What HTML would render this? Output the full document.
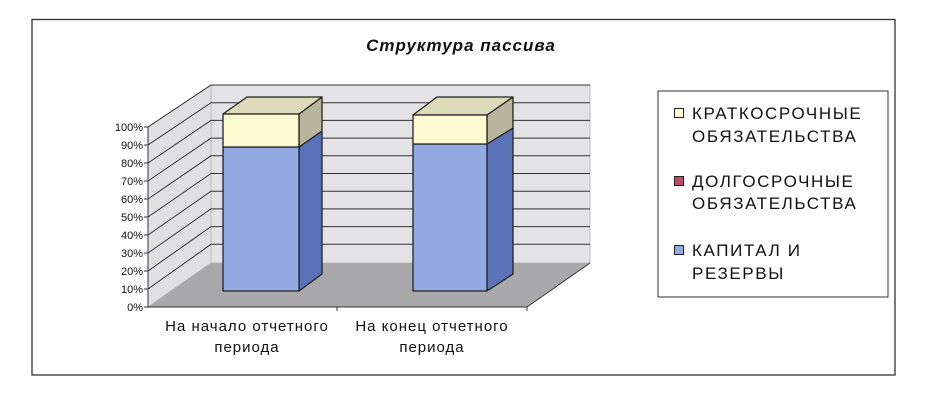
<!DOCTYPE html>
<html><head><meta charset="utf-8"><style>
html,body{margin:0;padding:0;background:#fff;}
svg{display:block;}
text{font-family:"Liberation Sans",sans-serif;}
</style></head><body>
<svg width="937" height="400" viewBox="0 0 937 400" xmlns="http://www.w3.org/2000/svg">
<rect x="0" y="0" width="937" height="400" fill="#fff"/>
<rect x="32" y="19.5" width="863" height="355.5" fill="#fff" stroke="#333" stroke-width="1.3"/>
<text x="461" y="51" font-size="17" font-weight="bold" font-style="italic" text-anchor="middle" fill="#111" letter-spacing="1">Структура пассива</text>
<!-- walls -->
<polygon points="211,85 590,85 590,263 211,263" fill="#e3e3e6" stroke="#bbb" stroke-width="1"/>
<polygon points="148,127 211,85 211,263 148,307" fill="#e0e0e2" stroke="#bbb" stroke-width="1"/>
<polygon points="148,307 211,263 590,263 527,307" fill="#a9a9ab"/>
<g stroke="#333" stroke-width="1" fill="none">
<polyline points="148,127 211,85 590,85"/>
<polyline points="148,145 211,102.7 590,102.7"/>
<polyline points="148,163 211,120.4 590,120.4"/>
<polyline points="148,181 211,138.1 590,138.1"/>
<polyline points="148,199 211,155.8 590,155.8"/>
<polyline points="148,217 211,173.5 590,173.5"/>
<polyline points="148,235 211,191.2 590,191.2"/>
<polyline points="148,253 211,208.9 590,208.9"/>
<polyline points="148,271 211,226.6 590,226.6"/>
<polyline points="148,289 211,244.3 590,244.3"/>
<line x1="148" y1="127" x2="148" y2="307"/>
<line x1="148" y1="307" x2="527" y2="307"/>
<line x1="527" y1="307" x2="590" y2="263"/>
<line x1="337" y1="307" x2="337" y2="311"/>
<line x1="527" y1="307" x2="527" y2="311"/>
</g>
<g stroke="#333" stroke-width="1">
<line x1="144" y1="127" x2="148" y2="127"/><line x1="144" y1="145" x2="148" y2="145"/><line x1="144" y1="163" x2="148" y2="163"/><line x1="144" y1="181" x2="148" y2="181"/><line x1="144" y1="199" x2="148" y2="199"/><line x1="144" y1="217" x2="148" y2="217"/><line x1="144" y1="235" x2="148" y2="235"/><line x1="144" y1="253" x2="148" y2="253"/><line x1="144" y1="271" x2="148" y2="271"/><line x1="144" y1="289" x2="148" y2="289"/><line x1="144" y1="307" x2="148" y2="307"/>
</g>
<g font-size="11" text-anchor="end" fill="#111">
<text x="143" y="131">100%</text><text x="143" y="149">90%</text><text x="143" y="167">80%</text><text x="143" y="185">70%</text><text x="143" y="203">60%</text><text x="143" y="221">50%</text><text x="143" y="239">40%</text><text x="143" y="257">30%</text><text x="143" y="275">20%</text><text x="143" y="293">10%</text><text x="143" y="311">0%</text>
</g>
<!-- bar 1 -->
<g stroke="#222" stroke-width="1.3" stroke-linejoin="round">
<polygon points="299,147 322,131 322,274 299,291" fill="#5a72b8"/>
<polygon points="299,114 322,97 322,131 299,147" fill="#b8b59c"/>
<polygon points="223,114 247,97 322,97 299,114" fill="#dcdab8"/>
<rect x="223" y="147" width="76" height="144" fill="#92a9e2"/>
<rect x="223" y="114" width="76" height="33" fill="#fbfad0"/>
</g>
<!-- bar 2 -->
<g stroke="#222" stroke-width="1.3" stroke-linejoin="round">
<polygon points="487,144 513,128 513,274 487,291" fill="#5a72b8"/>
<polygon points="487,115 513,97 513,128 487,144" fill="#b8b59c"/>
<polygon points="413,115 437,97 513,97 487,115" fill="#dcdab8"/>
<rect x="413" y="144" width="74" height="147" fill="#92a9e2"/>
<rect x="413" y="115" width="74" height="29" fill="#fbfad0"/>
</g>
<g font-size="15" text-anchor="middle" fill="#111" letter-spacing="1">
<text x="247" y="331">На начало отчетного</text><text x="247" y="352">периода</text>
<text x="432" y="331">На конец отчетного</text><text x="432" y="352">периода</text>
</g>
<!-- legend -->
<rect x="658" y="91" width="230" height="206" fill="#fff" stroke="#333" stroke-width="1"/>
<rect x="674.5" y="108.5" width="9" height="9" fill="#fbfad0" stroke="#222"/>
<rect x="674.5" y="176.5" width="9" height="9" fill="#c04868" stroke="#222"/>
<rect x="674.5" y="245.5" width="9" height="9" fill="#92a9e2" stroke="#222"/>
<g font-size="17" fill="#111" letter-spacing="1.6">
<text x="692" y="119">КРАТКОСРОЧНЫЕ</text><text x="692" y="142">ОБЯЗАТЕЛЬСТВА</text>
<text x="692" y="187">ДОЛГОСРОЧНЫЕ</text><text x="692" y="209">ОБЯЗАТЕЛЬСТВА</text>
<text x="692" y="256">КАПИТАЛ И</text><text x="692" y="279">РЕЗЕРВЫ</text>
</g>
</svg>
</body></html>
